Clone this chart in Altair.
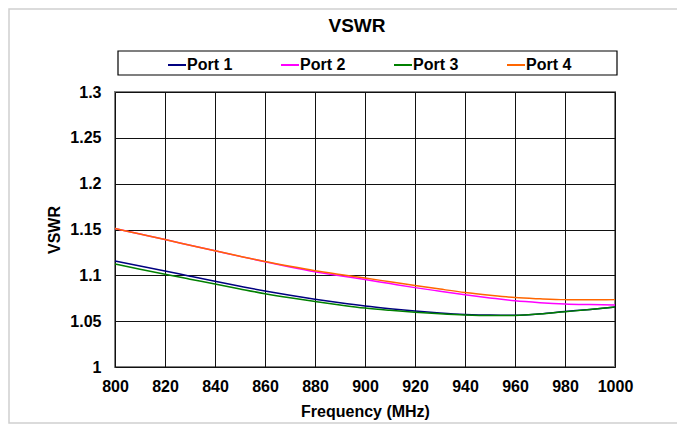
import altair as alt
import pandas as pd

freq = [800, 810, 820, 830, 840, 850, 860, 870, 880, 890, 900,
        910, 920, 930, 940, 950, 960, 970, 980, 990, 1000]
port1 = [1.1157, 1.1103, 1.1048, 1.0991, 1.0935, 1.0881, 1.0829, 1.0782, 1.0739, 1.0700, 1.0665,
         1.0636, 1.0611, 1.0590, 1.0574, 1.0566, 1.0565, 1.0580, 1.0605, 1.0628, 1.0655]
port2 = [1.1510, 1.1450, 1.1390, 1.1329, 1.1268, 1.1207, 1.1148, 1.1092, 1.1040, 1.0996, 1.0955,
         1.0910, 1.0866, 1.0827, 1.0789, 1.0754, 1.0722, 1.0702, 1.0688, 1.0681, 1.0676]
port3 = [1.1124, 1.1067, 1.1011, 1.0958, 1.0906, 1.0852, 1.0800, 1.0755, 1.0715, 1.0677, 1.0643,
         1.0618, 1.0597, 1.0580, 1.0567, 1.0561, 1.0563, 1.0578, 1.0603, 1.0627, 1.0655]
port4 = [1.1510, 1.1450, 1.1390, 1.1329, 1.1268, 1.1208, 1.1150, 1.1098, 1.1050, 1.1009, 1.0970,
         1.0930, 1.0890, 1.0850, 1.0812, 1.0782, 1.0757, 1.0744, 1.0735, 1.0733, 1.0735]

series_names = ["Port 1", "Port 2", "Port 3", "Port 4"]
series_colors = ["#000080", "#FF00FF", "#008000", "#FF6600"]
x_ticks = [800, 820, 840, 860, 880, 900, 920, 940, 960, 980, 1000]
y_ticks = [1.0, 1.05, 1.1, 1.15, 1.2, 1.25, 1.3]

rows = []
for name, vals in zip(series_names, [port1, port2, port3, port4]):
    for f, v in zip(freq, vals):
        rows.append({"Frequency": f, "VSWR": v, "Port": name, "order": series_names.index(name)})
df = pd.DataFrame(rows)

FONT = "Liberation Sans"

# Outer chart frame and legend box (decoration only)
frame = alt.Chart(pd.DataFrame({"k": [0]})).mark_rect(
    fillOpacity=0, stroke="#d0d0d0", strokeWidth=1.5
).encode(
    x=alt.value(-106), x2=alt.value(563), y=alt.value(-83), y2=alt.value(331)
)

legend_box = alt.Chart(pd.DataFrame({"k": [0]})).mark_rect(
    fillOpacity=0, stroke="black", strokeWidth=1.2
).encode(
    x=alt.value(3), x2=alt.value(502), y=alt.value(-41), y2=alt.value(-17)
)

lines = alt.Chart(df).mark_line(strokeWidth=1.5, interpolate="monotone").encode(
    x=alt.X("Frequency:Q",
            scale=alt.Scale(domain=[800, 1000], nice=False, zero=False),
            axis=alt.Axis(values=x_ticks, title="Frequency (MHz)", format="d",
                          grid=True, gridColor="#111", gridWidth=1, gridOpacity=1,
                          domain=False, ticks=False, labelPadding=11,
                          labelFlush=False, labelOverlap=False,
                          labelFont=FONT, labelFontSize=16, labelFontWeight="bold",
                          labelColor="black", titleFont=FONT, titleFontSize=16,
                          titleFontWeight="bold", titleColor="black", titlePadding=9)),
    y=alt.Y("VSWR:Q",
            scale=alt.Scale(domain=[1.0, 1.3], nice=False, zero=False),
            axis=alt.Axis(values=y_ticks, title="VSWR", format="~g",
                          grid=True, gridColor="#111", gridWidth=1, gridOpacity=1,
                          domain=False, ticks=False, labelPadding=14,
                          labelFlush=False, labelOverlap=False,
                          labelFont=FONT, labelFontSize=16, labelFontWeight="bold",
                          labelColor="black", titleFont=FONT, titleFontSize=16,
                          titleFontWeight="bold", titleColor="black", titlePadding=7)),
    color=alt.Color("Port:N",
                    scale=alt.Scale(domain=series_names, range=series_colors),
                    legend=alt.Legend(title=None, orient="none", legendX=52, legendY=-37,
                                      direction="horizontal", columns=4,
                                      symbolType="stroke", symbolSize=324,
                                      symbolStrokeWidth=2, labelOffset=0,
                                      columnPadding=44, padding=0,
                                      labelFont=FONT, labelFontSize=16,
                                      labelFontWeight="bold", labelColor="black")),
    order=alt.Order("order:Q"),
    detail="Port:N",
)

chart = alt.layer(frame, legend_box, lines).properties(
    width=500,
    height=275,
    title=alt.TitleParams("VSWR", font=FONT, fontSize=19, fontWeight="bold",
                          color="black", anchor="middle", offset=-28, dx=-8),
    autosize=alt.AutoSizeParams(type="none"),
    padding={"left": 107, "top": 84, "right": 62, "bottom": 57},
    background="white",
).configure_view(
    stroke="#808080", strokeWidth=2
)

chart.save("out.html", embed_options={"renderer": "svg", "actions": False})
